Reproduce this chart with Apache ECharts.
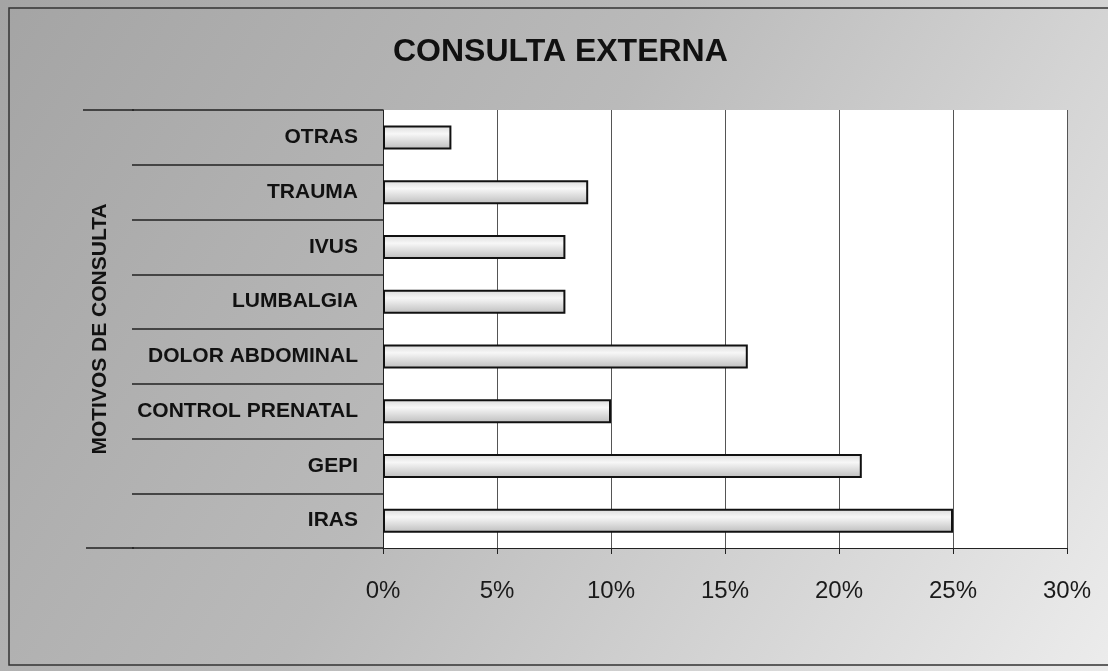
<!DOCTYPE html>
<html>
<head>
<meta charset="utf-8">
<title>Consulta externa</title>
<script src="https://cdn.jsdelivr.net/npm/echarts@6/dist/echarts.min.js"></script>
<style>
  html, body { margin: 0; padding: 0; background: #fff; }
  #charts { width: 1108px; height: 671px; }
</style>
</head>
<body>
<div id="charts"></div>
<script>
// datos
var categorias = ['OTRAS', 'TRAUMA', 'IVUS', 'LUMBALGIA', 'DOLOR ABDOMINAL', 'CONTROL PRENATAL', 'GEPI', 'IRAS'];
var porcentajes = [0.03, 0.09, 0.08, 0.08, 0.16, 0.10, 0.21, 0.25];
var ticksX = [0, 0.05, 0.10, 0.15, 0.20, 0.25, 0.30];

var fuente = '"Liberation Sans", Arial, sans-serif';

var myChart = echarts.init(document.getElementById('charts'));

myChart.setOption({
	backgroundColor: {
		type: 'linear', x: 0, y: 0, x2: 1, y2: 1,
		colorStops: [
			{ offset: 0, color: '#a4a4a4' },
			{ offset: 0.45, color: '#bababa' },
			{ offset: 1, color: '#ececec' }
		]
	},
	title: {
		text: 'CONSULTA EXTERNA',
		left: 388,
		top: 31,
		textStyle: { fontFamily: fuente, fontSize: 32, fontWeight: 'bold', color: '#111', letterSpacing: -0.5 }
	},
	grid: {
		left: 383, right: 41, top: 110, bottom: 123,
		show: true, backgroundColor: '#ffffff', borderWidth: 0
	},
	xAxis: {
		type: 'value',
		min: ticksX[0],
		max: ticksX[ticksX.length - 1],
		interval: 0.05,
		axisLine: { show: true, lineStyle: { color: '#222', width: 1 } },
		axisTick: { show: true, length: 6, lineStyle: { color: '#222' } },
		splitLine: { show: true, lineStyle: { color: '#555', width: 1 } },
		axisLabel: {
			margin: 31,
			fontFamily: fuente, fontSize: 24, color: '#1a1a1a',
			formatter: function (v) { return Math.round(v * 100) + '%'; }
		}
	},
	yAxis: {
		type: 'category',
		data: categorias,
		inverse: true,
		name: 'MOTIVOS DE CONSULTA',
		nameLocation: 'middle',
		nameRotate: 90,
		nameGap: 272,
		nameTextStyle: { fontFamily: fuente, fontSize: 21, fontWeight: 'bold', color: '#111', letterSpacing: -0.3 },
		axisLine: { show: true, lineStyle: { color: '#222', width: 1 } },
		axisTick: { show: true, length: 251, alignWithLabel: false, lineStyle: { color: '#222', width: 1.5 } },
		axisLabel: {
			margin: 25,
			fontFamily: fuente, fontSize: 21, fontWeight: 'bold', color: '#111', letterSpacing: -0.6
		},
		splitLine: { show: false }
	},
	graphic: [
		// marco del area del grafico
		{ type: 'rect', shape: { x: 9, y: 8, width: 1120, height: 657 }, style: { fill: null, stroke: '#333', lineWidth: 1.5 }, silent: true },
		// lineas superior e inferior mas largas
		{ type: 'line', shape: { x1: 83, y1: 110, x2: 134, y2: 110 }, style: { stroke: '#222', lineWidth: 1.5 }, silent: true },
		{ type: 'line', shape: { x1: 86, y1: 548, x2: 134, y2: 548 }, style: { stroke: '#222', lineWidth: 1.5 }, silent: true }
	],
	series: [{
		name: 'Consulta',
		type: 'bar',
		data: porcentajes,
		barWidth: 24,
		itemStyle: {
			color: {
				type: 'linear', x: 0, y: 0, x2: 0, y2: 1,
				colorStops: [
					{ offset: 0, color: '#d9d9d9' },
					{ offset: 0.35, color: '#f7f7f7' },
					{ offset: 1, color: '#bdbdbd' }
				]
			},
			borderColor: '#111',
			borderWidth: 2
		}
	}]
});
</script>
</body>
</html>
